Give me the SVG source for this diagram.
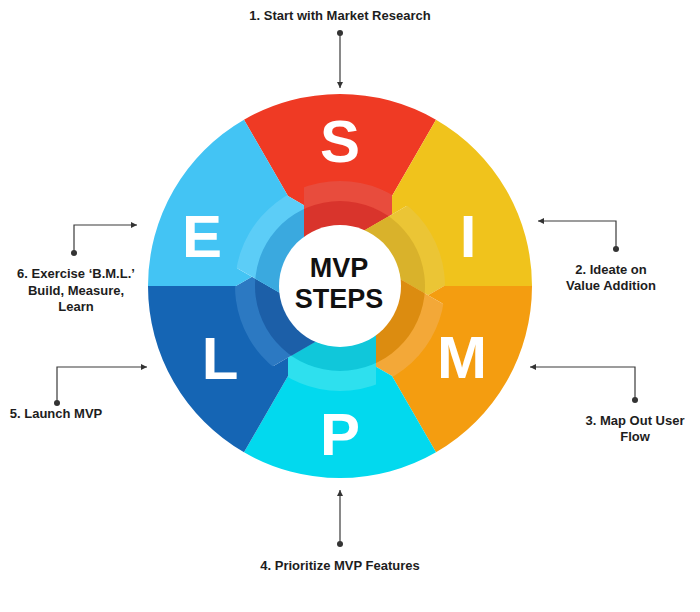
<svg xmlns="http://www.w3.org/2000/svg" width="700" height="612" viewBox="0 0 700 612">
<defs>
<style>
.lbl{font-family:"Liberation Sans",Arial,sans-serif;font-weight:700;font-size:13px;fill:#1d1d1d;text-anchor:middle}
.let{font-family:"Liberation Sans",Arial,sans-serif;font-weight:700;font-size:60px;fill:#ffffff;text-anchor:middle}
.ctr{font-family:"Liberation Sans",Arial,sans-serif;font-weight:700;font-size:27px;fill:#111111;text-anchor:middle}
.con{fill:none;stroke:#3a3a3a;stroke-width:1.2;marker-end:url(#ah)}
.dot{fill:#333333}
</style>
<marker id="ah" markerUnits="userSpaceOnUse" markerWidth="8" markerHeight="8" refX="6" refY="3" orient="auto"><path d="M0,0 L6,3 L0,6 Z" fill="#333333"/></marker>
<path id="wedge" d="M-96,-166.28 A192,192 0 0 1 96,-166.28 L52,-90.07 A104,104 0 0 0 -36,-97.57 L-36,-80.83 L-52,-90.07 Z"/>
<path id="piece" d="M-36,-120 L52,-120 L52,-71.6 L-36,-20.8 Z"/>
<clipPath id="r105"><circle cx="0" cy="0" r="105"/></clipPath>
<clipPath id="r85"><circle cx="0" cy="0" r="85"/></clipPath>
</defs>
<rect width="700" height="612" fill="#ffffff"/>

<g id="seg-S">
<g transform="translate(340,286)">
<use href="#wedge" fill="#ef3a24"/>
<use href="#piece" fill="#e84c3d" clip-path="url(#r105)"/>
<use href="#piece" fill="#d9342c" clip-path="url(#r85)"/>
</g>
<text class="let" x="340" y="162">S</text>
</g>

<g id="seg-I">
<g transform="translate(340,286) rotate(60)">
<use href="#wedge" fill="#f0c31c"/>
<use href="#piece" fill="#ebc535" clip-path="url(#r105)"/>
<use href="#piece" fill="#d9b22b" clip-path="url(#r85)"/>
</g>
<text class="let" x="468" y="257">I</text>
</g>

<g id="seg-M">
<g transform="translate(340,286) rotate(120)">
<use href="#wedge" fill="#f49d10"/>
<use href="#piece" fill="#f3a838" clip-path="url(#r105)"/>
<use href="#piece" fill="#dc8c10" clip-path="url(#r85)"/>
</g>
<text class="let" x="462" y="378">M</text>
</g>

<g id="seg-P">
<g transform="translate(340,286) rotate(180)">
<use href="#wedge" fill="#02d9ee"/>
<use href="#piece" fill="#2ee0ee" clip-path="url(#r105)"/>
<use href="#piece" fill="#10c7da" clip-path="url(#r85)"/>
</g>
<text class="let" x="340" y="455">P</text>
</g>

<g id="seg-L">
<g transform="translate(340,286) rotate(240)">
<use href="#wedge" fill="#1565b4"/>
<use href="#piece" fill="#2c79c2" clip-path="url(#r105)"/>
<use href="#piece" fill="#1c5fa8" clip-path="url(#r85)"/>
</g>
<text class="let" x="220" y="379">L</text>
</g>

<g id="seg-E">
<g transform="translate(340,286) rotate(300)">
<use href="#wedge" fill="#43c4f4"/>
<use href="#piece" fill="#5ccdf7" clip-path="url(#r105)"/>
<use href="#piece" fill="#3aa9df" clip-path="url(#r85)"/>
</g>
<text class="let" x="202" y="257">E</text>
</g>

<g id="center">
<circle cx="340" cy="286" r="61" fill="#ffffff"/>
<text class="ctr" x="339" y="277">MVP</text>
<text class="ctr" x="339" y="308">STEPS</text>
</g>

<g id="connectors">
<circle class="dot" cx="340" cy="33" r="3"/>
<path class="con" d="M340,33 L340,88"/>
<circle class="dot" cx="616" cy="249" r="3"/>
<path class="con" d="M616,249 L616,221 L538,221"/>
<circle class="dot" cx="635" cy="400" r="3"/>
<path class="con" d="M635,400 L635,367 L530,367"/>
<circle class="dot" cx="340" cy="544" r="3"/>
<path class="con" d="M340,544 L340,490"/>
<circle class="dot" cx="57" cy="403" r="3"/>
<path class="con" d="M57,403 L57,367 L147,367"/>
<circle class="dot" cx="74" cy="253" r="3"/>
<path class="con" d="M74,253 L74,225 L137,225"/>
</g>

<g id="step-1"><text class="lbl" x="340" y="20">1. Start with Market Research</text></g>
<g id="step-2"><text class="lbl" x="611" y="274">2. Ideate on</text><text class="lbl" x="611" y="290">Value Addition</text></g>
<g id="step-3"><text class="lbl" x="635" y="425">3. Map Out User</text><text class="lbl" x="635" y="441">Flow</text></g>
<g id="step-4"><text class="lbl" x="340" y="570">4. Prioritize MVP Features</text></g>
<g id="step-5"><text class="lbl" x="56" y="418">5. Launch MVP</text></g>
<g id="step-6"><text class="lbl" x="76" y="278">6. Exercise ‘B.M.L.’</text><text class="lbl" x="76" y="295">Build, Measure,</text><text class="lbl" x="76" y="311">Learn</text></g>
</svg>
